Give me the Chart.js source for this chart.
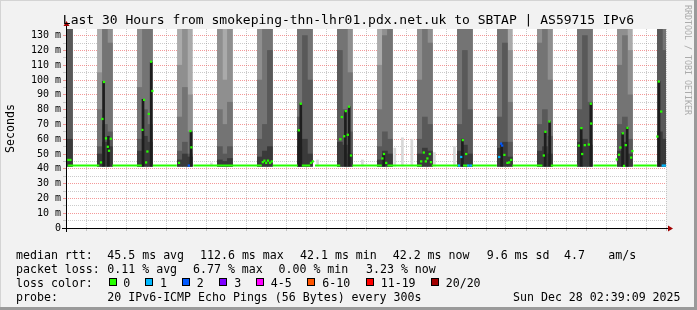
<!DOCTYPE html>
<html>
<head>
<meta charset="utf-8">
<script src="https://cdn.jsdelivr.net/npm/chart.js@4.4.1/dist/chart.umd.min.js"></script>
<style>
body{margin:0;background:#f2f2f2;}
#wrap{position:relative;width:697px;height:310px;overflow:hidden;font-family:"DejaVu Sans Mono",monospace;color:#000;}
#wrap canvas{position:absolute;left:0;top:0;}
.t{position:absolute;white-space:pre;font-size:11.6px;line-height:14px;}
.box{position:absolute;width:6px;height:6px;border:1px solid #000;}
#title{position:absolute;left:0;top:11.8px;width:697px;text-align:center;font-size:13px;line-height:16px;white-space:pre;}
#credit{position:absolute;left:682.5px;top:5px;writing-mode:vertical-rl;font-size:8.3px;line-height:10px;color:#ababab;white-space:pre;}
</style>
</head>
<body>
<div id="wrap">
<canvas id="smokeChart" width="697" height="310"></canvas>
<div id="title">Last 30 Hours from smokeping-thn-lhr01.pdx.net.uk to SBTAP | AS59715 IPv6</div>
<div id="credit">RRDTOOL / TOBI OETIKER</div>

<div class="t" style="left:16px;top:247.5px">median rtt:</div>
<div class="t" style="left:107.3px;top:247.5px">45.5 ms avg</div>
<div class="t" style="left:200px;top:247.5px">112.6 ms max</div>
<div class="t" style="left:300px;top:247.5px">42.1 ms min</div>
<div class="t" style="left:392.7px;top:247.5px">42.2 ms now</div>
<div class="t" style="left:486.7px;top:247.5px">9.6 ms sd</div>
<div class="t" style="left:564px;top:247.5px">4.7</div>
<div class="t" style="left:608.3px;top:247.5px">am/s</div>

<div class="t" style="left:16px;top:261.7px">packet loss:</div>
<div class="t" style="left:107.3px;top:261.7px">0.11 % avg</div>
<div class="t" style="left:193px;top:261.7px">6.77 % max</div>
<div class="t" style="left:278.5px;top:261.7px">0.00 % min</div>
<div class="t" style="left:366px;top:261.7px">3.23 % now</div>

<div class="t" style="left:16px;top:275.9px">loss color:</div>
<div class="box" style="left:108.5px;top:278px;background:#26ff00"></div><div class="t" style="left:123.3px;top:275.9px">0</div>
<div class="box" style="left:145.3px;top:278px;background:#00b8ff"></div><div class="t" style="left:160px;top:275.9px">1</div>
<div class="box" style="left:182.3px;top:278px;background:#0059ff"></div><div class="t" style="left:196.7px;top:275.9px">2</div>
<div class="box" style="left:219px;top:278px;background:#7e00ff"></div><div class="t" style="left:234.3px;top:275.9px">3</div>
<div class="box" style="left:255.7px;top:278px;background:#ff00ff"></div><div class="t" style="left:270.7px;top:275.9px">4-5</div>
<div class="box" style="left:307.3px;top:278px;background:#ff5500"></div><div class="t" style="left:322.3px;top:275.9px">6-10</div>
<div class="box" style="left:365.7px;top:278px;background:#ff0000"></div><div class="t" style="left:380.7px;top:275.9px">11-19</div>
<div class="box" style="left:430.7px;top:278px;background:#a10000"></div><div class="t" style="left:445.7px;top:275.9px">20/20</div>

<div class="t" style="left:16px;top:290.1px">probe:</div>
<div class="t" style="left:107.3px;top:290.1px">20 IPv6-ICMP Echo Pings (56 Bytes) every 300s</div>
<div class="t" style="left:513px;top:290.1px">Sun Dec 28 02:39:09 2025</div>
</div>

<script>
// hours relative to Sat 00:00

const timeLabelHours = [0, 6, 12, 18, 24];
const timeLabels = ["Sat 00:00", "Sat 06:00", "Sat 12:00", "Sat 18:00", "Sun 00:00"];

const lossColors = ["#26ff00", "#00b8ff", "#0059ff", "#7e00ff", "#ff00ff", "#ff5500", "#ff0000", "#a10000"];

// smoke, 15 minute slots inside the busy periods
const smokeHours = [
    -3.125,
    -1.625, -1.375, -1.125,
    0.375, 0.625, 0.875,
    2.375, 2.625, 2.875,
    4.375, 4.625, 4.875,
    6.375, 6.625, 6.875,
    8.375, 8.625, 8.875,
    10.375, 10.625, 10.875,
    12.375, 12.625, 12.875,
    14.375, 14.625, 14.875,
    16.375, 16.625, 16.875,
    18.375, 18.625, 18.875,
    20.375, 20.625, 20.875,
    22.375, 22.625, 22.875,
    24.375, 24.625, 24.875,
    26.375, 26.625
];
const minRtt = 41.8;
const smokeTop1 = [
    140, 140,140,140, 140,140,140, 140,140,140, 140,140,140, 140,140,140, 140,140,140, 140,140,140,
    140,140,140, 140,140,140, 140,140,140, 140,140,140, 140,140,140, 140,140,140, 140,140,140, 140,140
];
const smokeTop2 = [
    140, 105,140,140, 140,140,140, 110,140,90, 140,100,140, 140,140,140, 140,140,140, 140,140,140,
    110,140,140, 140,140,140, 140,140,140, 140,140,120, 140,140,140, 140,140,140, 140,140,120, 140,140
];
const smokeTop3 = [
    140, 80,140,125, 95,140,140, 75,95,65, 80,70,85, 100,140,140, 140,140,140, 140,140,105,
    80,130,140, 100,140,125, 140,140,140, 140,140,85, 125,140,100, 140,140,140, 110,130,90, 140,140
];
const smokeTop4 = [
    140, 55,70,65, 60,80,70, 52,58,50, 55,50,55, 60,70,120, 75,130,100, 120,80,65,
    55,65,60, 60,75,70, 70,120,80, 75,125,58, 70,80,62, 80,130,85, 70,75,60, 140,120
];
const smokeTop5 = [
    60, 50,58,55, 52,62,58, 46,50,48, 46,45,47, 48,52,55, 55,60,50, 58,56,50,
    46,52,50, 50,54,52, 52,56,50, 54,58,48, 52,55,50, 58,60,56, 52,58,50, 65,60
];

// dense dark core of the smoke
const streakHours = [-1.44, -1.2, 0.53, 0.94, 2.93, 8.32, 8.42, 10.65, 10.84, 12.57, 16.5, 18.46, 20.64, 20.86, 22.44, 22.92, 24.51, 24.74, 26.33];
const streakTops  = [99, 62, 87, 112, 65, 66, 84, 79, 82, 50, 60, 57, 65, 72, 67, 84, 64, 68, 99];

// faint smoke in the quiet periods
const outlierHours = [3.95, 9.26, 11.5, 13.12, 13.5, 13.97, 15.1, 16.1];
const outlierTops  = [44, 46, 46, 54, 61, 60, 51, 55];

// median rtt, flat runs
const medianLevel = 42.2;
const medianRuns = [
    [-3.23, -1.65], [-1.0, 0.47], [1.02, 2.22], [3.05, 6.47], [7.02, 8.27], [8.47, 8.89],
    [9.13, 10.39], [11.0, 12.47], [12.75, 14.47], [14.97, 16.3], [16.53, 16.77], [16.97, 18.22],
    [19.0, 20.5], [20.92, 22.25], [23.05, 24.22], [25.05, 26.22]
];

// median rtt, single steps off the floor (loss = index into lossColors)
const medianDotHours = [
    -3.2, -3.1,
    -1.57, -1.5, -1.42, -1.32, -1.23, -1.17, -1.08,
    0.5, 0.585, 0.685, 0.75, 0.82, 0.935, 1.0,
    2.33, 2.82, 2.9, 2.95,
    6.52, 6.6, 6.69, 6.78, 6.88, 6.97,
    8.32, 8.42, 8.93, 9.02,
    10.4, 10.47, 10.59, 10.67, 10.77, 10.83, 10.93,
    12.5, 12.58, 12.69,
    14.44, 14.57, 14.67, 14.75, 14.87, 14.93,
    16.33, 16.44, 16.52, 16.69, 16.8, 16.92,
    18.34, 18.44, 18.49, 18.6, 18.75, 18.84, 18.94,
    20.57, 20.65, 20.85,
    22.32, 22.45, 22.49, 22.62, 22.82, 22.92, 22.94,
    24.22, 24.33, 24.4, 24.52, 24.58, 24.67, 24.75, 24.94, 25.0,
    26.25, 26.32, 26.44, 26.52, 26.62
];
const medianDotValues = [
    46, 46,
    44.3, 73.7, 98.7, 60.6, 54.9, 52.2, 60.3,
    66.3, 86.6, 44.3, 51.7, 77.1, 112.4, 92.6,
    44, 42.2, 65.5, 54.5,
    44.5, 45.5, 44, 45.5, 44, 45,
    66, 84, 44, 45,
    60, 75, 62, 79, 63, 82, 49,
    47, 50, 44,
    45, 51, 45, 47, 50, 44.5,
    42.2, 48, 59.4, 50, 42.2, 42.2,
    48, 57, 55.7, 49.4, 44, 44.3, 46,
    49, 65, 72,
    55.7, 67.5, 50, 56, 56.4, 84, 70.6,
    46.3, 49.5, 54.4, 64, 42, 56, 67.7, 47.6, 52,
    61.8, 99, 78.7, 42.2, 42.2
];
const medianDotLoss = [
    0, 0,
    0, 0, 0, 0, 0, 0, 0,
    0, 0, 0, 0, 0, 0, 0,
    0, 2, 0, 0,
    0, 0, 0, 0, 0, 0,
    0, 0, 0, 0,
    0, 0, 0, 0, 0, 0, 0,
    0, 0, 0,
    0, 0, 0, 0, 0, 0,
    1, 1, 0, 0, 1, 1,
    1, 2, 2, 0, 0, 0, 0,
    0, 0, 0,
    0, 0, 0, 0, 0, 0, 0,
    0, 0, 0, 0, 0, 0, 0, 0, 0,
    0, 0, 0, 1, 1
];

const monoFont = "'DejaVu Sans Mono', monospace";
Chart.defaults.font.family = monoFont;

const smokeLayer = (tops, color) => ({
    type: "bar",
    data: smokeHours.map((h, i) => ({ x: h, y: [minRtt, tops[i]] })),
    backgroundColor: color,
    borderWidth: 0,
    barThickness: 5,
    grouped: false
});

const medianLine = [];
medianRuns.forEach(r => {
    medianLine.push({ x: r[0], y: medianLevel }, { x: r[1], y: medianLevel }, { x: r[1], y: null });
});

const majorGrid = "rgba(235,70,70,0.55)";
const minorGrid = "rgba(140,140,140,0.45)";

const frame = {
    id: "frame",
    beforeDraw(c) {
        const g = c.ctx, a = c.chartArea;
        g.save();
        g.fillStyle = "#f2f2f2";
        g.fillRect(0, 0, c.width, c.height);
        g.fillStyle = "#ffffff";
        g.fillRect(a.left, a.top, a.right - a.left, a.bottom - a.top);
        g.fillStyle = "#d4d4d4";
        g.fillRect(0, 0, c.width, 1);
        g.fillRect(0, 0, 1, c.height);
        g.fillStyle = "#9a9a9a";
        g.fillRect(c.width - 3, 0, 3, c.height);
        g.fillRect(0, c.height - 3, c.width, 3);
        g.restore();
    },
    afterDraw(c) {
        const g = c.ctx, a = c.chartArea;
        const yb = Math.round(a.bottom) + 0.5;
        const xl = Math.round(a.left) + 0.5;
        g.save();
        g.strokeStyle = "#000";
        g.lineWidth = 1;
        g.beginPath();
        g.moveTo(a.left - 4, yb); g.lineTo(a.right + 3, yb);
        g.moveTo(xl, a.bottom + 4); g.lineTo(xl, a.top - 4);
        g.stroke();
        g.fillStyle = "#a10000";
        g.beginPath();
        g.moveTo(a.right + 2, yb - 3); g.lineTo(a.right + 7, yb); g.lineTo(a.right + 2, yb + 3);
        g.closePath(); g.fill();
        g.beginPath();
        g.moveTo(xl - 3, a.top - 3); g.lineTo(xl, a.top - 8); g.lineTo(xl + 3, a.top - 3);
        g.closePath(); g.fill();
        g.restore();
    }
};

new Chart(document.getElementById("smokeChart"), {
    type: "bar",
    data: {
        datasets: [
            {
                type: "line",
                data: medianDotHours.map((h, i) => ({ x: h, y: medianDotValues[i] })),
                showLine: false,
                pointStyle: "rect",
                pointRadius: 1.6,
                pointBorderWidth: 0,
                pointBackgroundColor: medianDotLoss.map(l => lossColors[l])
            },
            {
                type: "line",
                data: medianLine,
                borderColor: lossColors[0],
                borderWidth: 2,
                pointRadius: 0,
                spanGaps: false
            },
            {
                type: "bar",
                data: streakHours.map((h, i) => ({ x: h, y: [minRtt, streakTops[i]] })),
                backgroundColor: "#1e1e1e",
                borderWidth: 0,
                barThickness: 2,
                grouped: false
            },
            smokeLayer(smokeTop5, "#3a3a3a"),
            smokeLayer(smokeTop4, "#595959"),
            smokeLayer(smokeTop3, "#747474"),
            smokeLayer(smokeTop2, "#8f8f8f"),
            smokeLayer(smokeTop1, "#aaaaaa"),
            {
                type: "bar",
                data: outlierHours.map((h, i) => ({ x: h, y: [minRtt, outlierTops[i]] })),
                backgroundColor: "#d8d8d8",
                borderWidth: 0,
                barThickness: 2,
                grouped: false
            }
        ]
    },
    options: {
        responsive: false,
        animation: false,
        layout: { padding: { left: 0, right: 31, top: 29, bottom: 62 } },
        plugins: {
            legend: { display: false },
            tooltip: { enabled: false }
        },
        scales: {
            x: {
                type: "linear",
                min: -3.32,
                max: 26.68,
                offset: false,
                z: 1,
                ticks: {
                    stepSize: 1,
                    includeBounds: false,
                    autoSkip: false,
                    maxRotation: 0,
                    padding: 2,
                    color: "#000",
                    font: { size: 10 },
                    callback: v => {
                        const i = timeLabelHours.indexOf(v);
                        return i < 0 ? "" : timeLabels[i];
                    }
                },
                grid: {
                    offset: false,
                    color: c => (c.tick && c.tick.value % 3 === 0) ? majorGrid : minorGrid,
                    tickColor: c => (c.tick && c.tick.value % 3 === 0) ? majorGrid : minorGrid,
                    tickLength: 3
                },
                border: { display: false, dash: [1, 1] },
                afterFit: s => { s.height = 20; }
            },
            y: {
                min: 0,
                max: 134.5,
                z: 1,
                ticks: {
                    stepSize: 5,
                    includeBounds: false,
                    autoSkip: false,
                    padding: 2,
                    color: "#000",
                    font: { size: 10 },
                    callback: v => v % 10 !== 0 ? "" : (v === 0 ? "0" : v + " m")
                },
                grid: {
                    color: c => (c.tick && c.tick.value % 10 === 0) ? majorGrid : minorGrid,
                    tickColor: c => (c.tick && c.tick.value % 10 === 0) ? majorGrid : minorGrid,
                    tickLength: 3
                },
                border: { display: false, dash: [1, 1] },
                title: {
                    display: true,
                    text: "Seconds",
                    color: "#000",
                    font: { size: 11.6 },
                    padding: { top: 4, bottom: 0 }
                },
                afterFit: s => { s.width = 66; }
            }
        }
    },
    plugins: [frame]
});
</script>
</body>
</html>
